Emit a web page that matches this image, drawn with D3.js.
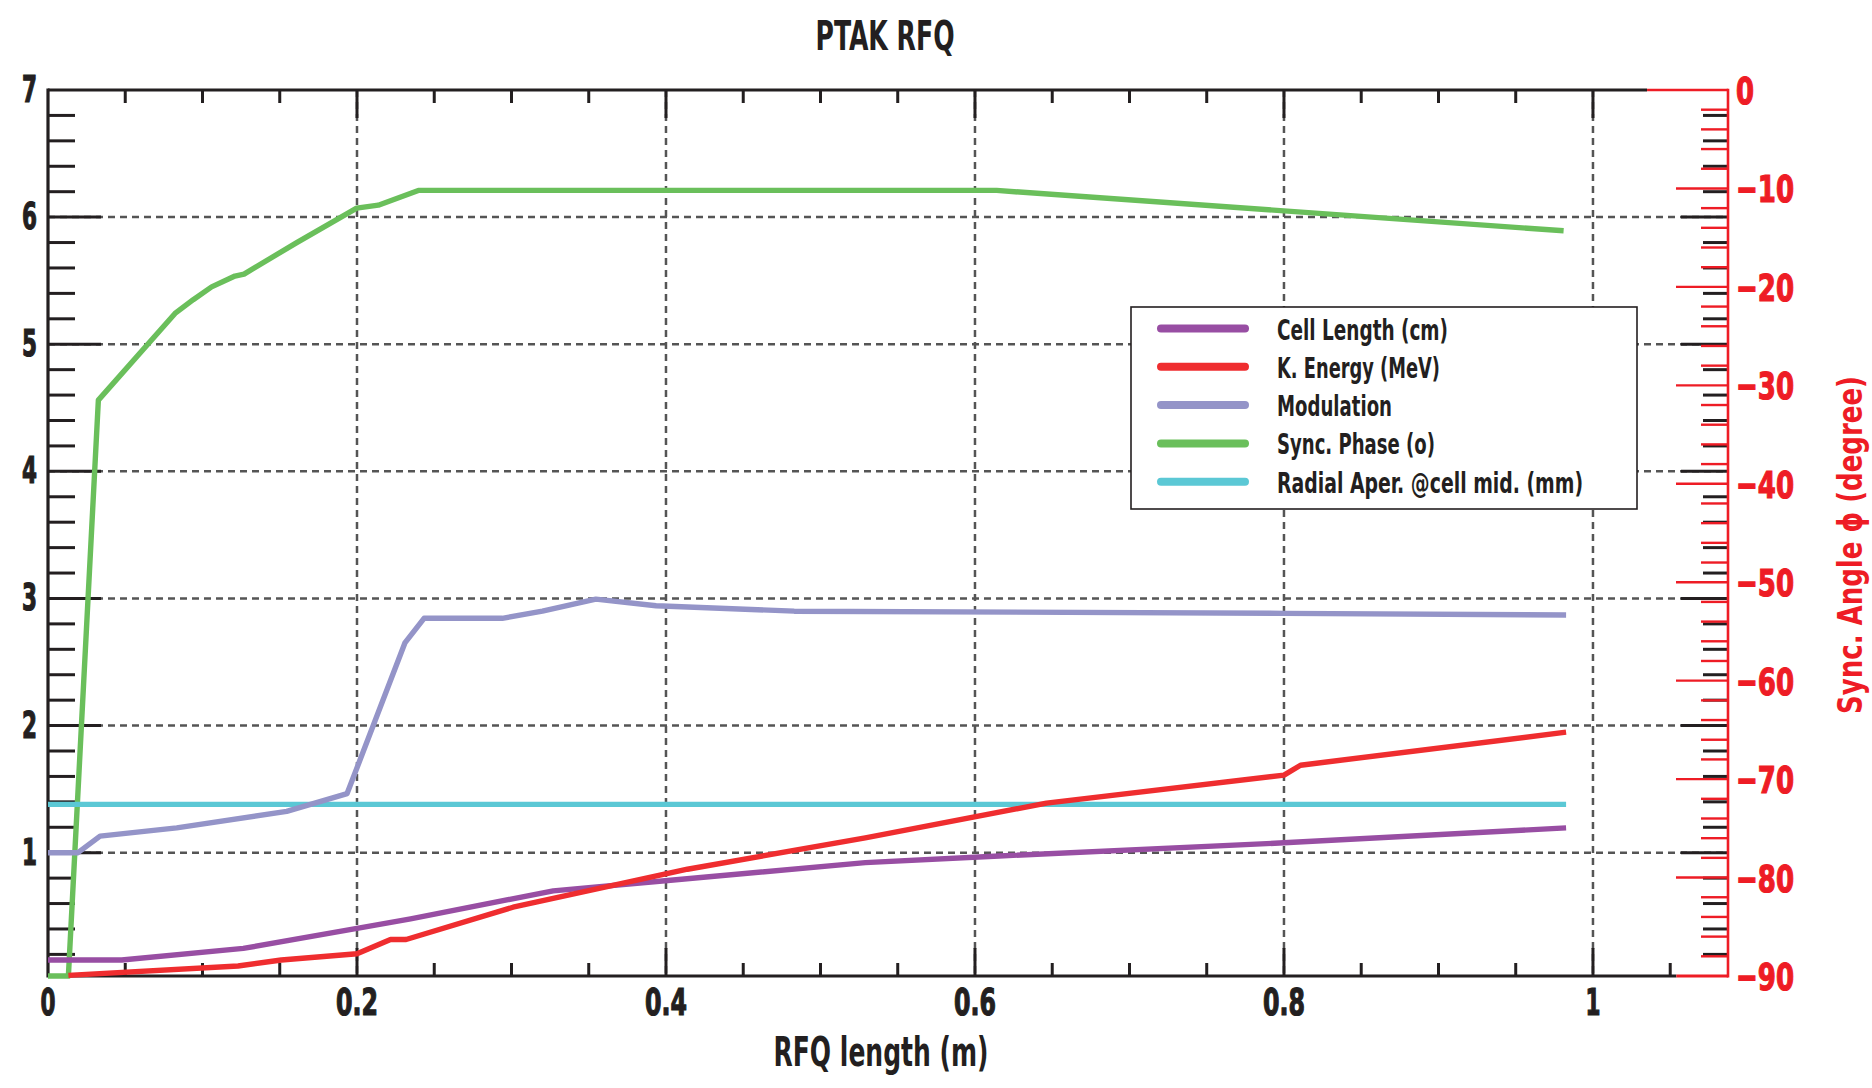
<!DOCTYPE html>
<html><head><meta charset="utf-8">
<script src="https://cdn.jsdelivr.net/npm/d3@7"></script>
<style>
body{margin:0;background:#fff;}
text{font-family:"Liberation Sans Narrow","DejaVu Sans Condensed","Arial Narrow","Roboto Condensed",sans-serif;font-weight:bold;}
</style></head><body>
<svg id="c" width="1872" height="1088"></svg>
<script>
// ---- data ----
const title = "PTAK RFQ";
const xLabel = "RFQ length (m)";
const yRightLabel = "Sync. Angle  \u03D5 (degree)";
const xTicks = [0, 0.2, 0.4, 0.6, 0.8, 1];
const xTickLabels = ["0", "0.2", "0.4", "0.6", "0.8", "1"];
const yTicks = [1, 2, 3, 4, 5, 6, 7];
const yTickLabels = ["1", "2", "3", "4", "5", "6", "7"];
const yRightTicks = [0, -10, -20, -30, -40, -50, -60, -70, -80, -90];
const yRightTickLabels = ["0", "\u221210", "\u221220", "\u221230", "\u221240", "\u221250", "\u221260", "\u221270", "\u221280", "\u221290"];

const cellLengthX = [0, 0.0477, 0.1264, 0.2, 0.2347, 0.327, 0.3994, 0.529, 0.6156, 0.8, 0.9826];
const cellLength  = [0.156, 0.156, 0.247, 0.405, 0.48, 0.70, 0.779, 0.922, 0.974, 1.078, 1.195];

const energyX = [0.0132, 0.123, 0.151, 0.2, 0.2217, 0.2318, 0.301, 0.4139, 0.529, 0.6463, 0.8, 0.8107, 0.9826];
const energy  = [0.035, 0.109, 0.156, 0.205, 0.317, 0.317, 0.571, 0.87, 1.117, 1.39, 1.61, 1.688, 1.948];

const modulationX = [0, 0.0194, 0.0337, 0.0833, 0.1545, 0.1936, 0.231, 0.2434, 0.294, 0.320, 0.3546, 0.3936, 0.483, 0.8, 0.9826];
const modulation  = [1.0, 1.0, 1.13, 1.195, 1.325, 1.465, 2.65, 2.844, 2.844, 2.90, 2.995, 2.943, 2.90, 2.883, 2.87];

const syncPhaseX = [0, 0.0132, 0.0326, 0.0822, 0.094, 0.1059, 0.121, 0.1269, 0.161, 0.1998, 0.2138, 0.2397, 0.614, 0.981];
const syncPhase  = [-90, -90, -31.5, -22.7, -21.3, -20.0, -18.9, -18.7, -15.5, -12.0, -11.7, -10.2, -10.2, -14.3];

const apertureX = [0, 0.9826];
const aperture  = [1.38, 1.38];

const seriesNames = ["Cell Length (cm)", "K. Energy (MeV)", "Modulation", "Sync. Phase (o)", "Radial Aper. @cell mid. (mm)"];
const seriesColors = ["#984ea3", "#ef2d2f", "#9494c8", "#6abf5b", "#5bc8d5"];

// ---- chart ----
const svg = d3.select("#c");
const L = 48, R = 1728, T = 90, B = 976;
const x = d3.scaleLinear().domain([0, 1.0874]).range([L, R]);
const y = d3.scaleLinear().domain([0.03, 7]).range([B, T]);
const yR = d3.scaleLinear().domain([-90, 0]).range([B, T]);
const black = "#231f20", red = "#ee1c25", grid = "#555555";

function labelWidth(s) {
  let w = 0;
  for (const ch of s) w += (ch === ".") ? 8 : (ch === "\u2212" ? 22 : 17);
  return s.length === 1 ? 15 : w;
}

// grid
const g = svg.append("g");
g.selectAll(".gx").data(xTicks.filter(d => d > 0)).enter().append("line")
  .attr("x1", d => x(d)).attr("x2", d => x(d)).attr("y1", T).attr("y2", B)
  .attr("stroke", grid).attr("stroke-width", 2.5).attr("stroke-dasharray", "7,5");
g.selectAll(".gy").data(yTicks.filter(d => d < 7)).enter().append("line")
  .attr("x1", L).attr("x2", R).attr("y1", d => y(d)).attr("y2", d => y(d))
  .attr("stroke", grid).attr("stroke-width", 2.5).attr("stroke-dasharray", "7,5");

// ticks
const tk = svg.append("g").attr("stroke-width", 3);
const yMinor = d3.range(0.2, 6.99, 0.2).map(v => +v.toFixed(1));
yMinor.forEach(v => {
  const major = Math.abs(v - Math.round(v)) < 1e-6;
  tk.append("line").attr("x1", L).attr("x2", L + (major ? 53 : 27)).attr("y1", y(v)).attr("y2", y(v)).attr("stroke", black);
  tk.append("line").attr("x1", R).attr("x2", R - (major ? 47 : 25)).attr("y1", y(v)).attr("y2", y(v)).attr("stroke", black);
});
const xMinor = d3.range(0.05, 1.06, 0.05).map(v => +v.toFixed(2));
xMinor.forEach(v => {
  const major = Math.abs(v * 5 - Math.round(v * 5)) < 1e-6;
  const len = major ? 28 : 13;
  tk.append("line").attr("x1", x(v)).attr("x2", x(v)).attr("y1", B).attr("y2", B - len).attr("stroke", black);
  if (v <= 1.0) tk.append("line").attr("x1", x(v)).attr("x2", x(v)).attr("y1", T).attr("y2", T + len).attr("stroke", black);
});
const rMinor = d3.range(-88, 0, 2);
rMinor.forEach(v => {
  const major = v % 10 === 0;
  tk.append("line").attr("x1", R).attr("x2", R - (major ? 52 : 27)).attr("y1", yR(v)).attr("y2", yR(v))
    .attr("stroke", red).attr("stroke-width", 2.4);
});

// axes frame
const fr = svg.append("g");
fr.append("line").attr("x1", L).attr("x2", L).attr("y1", T - 1.5).attr("y2", B + 1.5).attr("stroke", black).attr("stroke-width", 3.2);
fr.append("line").attr("x1", L).attr("x2", x(1.035)).attr("y1", T).attr("y2", T).attr("stroke", black).attr("stroke-width", 3.2);
fr.append("line").attr("x1", x(1.035)).attr("x2", R).attr("y1", T).attr("y2", T).attr("stroke", red).attr("stroke-width", 2.6);
fr.append("line").attr("x1", L).attr("x2", x(1.054)).attr("y1", B).attr("y2", B).attr("stroke", black).attr("stroke-width", 3.2);
fr.append("line").attr("x1", x(1.054)).attr("x2", R).attr("y1", B).attr("y2", B).attr("stroke", red).attr("stroke-width", 3);
fr.append("line").attr("x1", R).attr("x2", R).attr("y1", T - 1.3).attr("y2", B + 1.5).attr("stroke", red).attr("stroke-width", 2.6);

// series
const lineL = d3.line().x(d => x(d[0])).y(d => y(d[1]));
const lineR = d3.line().x(d => x(d[0])).y(d => yR(d[1]));
const series = [
  {xs: cellLengthX, ys: cellLength, gen: lineL},
  {xs: energyX, ys: energy, gen: lineL},
  {xs: modulationX, ys: modulation, gen: lineL},
  {xs: syncPhaseX, ys: syncPhase, gen: lineR},
  {xs: apertureX, ys: aperture, gen: lineL}
];
const sg = svg.append("g");
[3, 4, 2, 0, 1].forEach(i => {
  const s = series[i];
  sg.append("path").attr("d", s.gen(s.xs.map((v, k) => [v, s.ys[k]])))
    .attr("fill", "none").attr("stroke", seriesColors[i]).attr("stroke-width", 5.4)
    .attr("stroke-linejoin", "round");
});

// tick labels
const tl = svg.append("g");
yTicks.forEach((v, i) => {
  tl.append("text").attr("x", 37).attr("y", y(v) + 12).attr("text-anchor", "end")
    .attr("font-size", 38).attr("fill", black).attr("stroke", black).attr("stroke-width", 1.2)
    .attr("textLength", labelWidth(yTickLabels[i])).attr("lengthAdjust", "spacingAndGlyphs").text(yTickLabels[i]);
});
xTicks.forEach((v, i) => {
  tl.append("text").attr("x", x(v)).attr("y", 1015).attr("text-anchor", "middle")
    .attr("font-size", 38).attr("fill", black).attr("stroke", black).attr("stroke-width", 1.2)
    .attr("textLength", labelWidth(xTickLabels[i])).attr("lengthAdjust", "spacingAndGlyphs").text(xTickLabels[i]);
});
yRightTicks.forEach((v, i) => {
  tl.append("text").attr("x", 1736).attr("y", yR(v) + 14).attr("text-anchor", "start")
    .attr("font-size", 38).attr("fill", red).attr("stroke", red).attr("stroke-width", 1.2)
    .attr("textLength", i === 0 ? 18 : 58).attr("lengthAdjust", "spacingAndGlyphs").text(yRightTickLabels[i]);
});

// titles
svg.append("text").attr("x", 885).attr("y", 50).attr("text-anchor", "middle")
  .attr("font-size", 40).attr("fill", black).attr("textLength", 139).attr("lengthAdjust", "spacingAndGlyphs").text(title);
svg.append("text").attr("x", 881).attr("y", 1066).attr("text-anchor", "middle")
  .attr("font-size", 40).attr("fill", black).attr("textLength", 215).attr("lengthAdjust", "spacingAndGlyphs").text(xLabel);
svg.append("text").attr("transform", "translate(1862,545) rotate(-90)").attr("text-anchor", "middle")
  .attr("font-size", 34).attr("fill", red).attr("textLength", 338).attr("lengthAdjust", "spacingAndGlyphs").text(yRightLabel);

// legend
const lg = svg.append("g");
lg.append("rect").attr("x", 1131).attr("y", 307).attr("width", 506).attr("height", 202)
  .attr("fill", "#fff").attr("stroke", black).attr("stroke-width", 1.6);
const legendWidths = [171, 163, 115, 158, 306];
seriesNames.forEach((n, i) => {
  const cy = 328.5 + i * 38.3;
  lg.append("line").attr("x1", 1161).attr("x2", 1245).attr("y1", cy).attr("y2", cy)
    .attr("stroke", seriesColors[i]).attr("stroke-width", 8).attr("stroke-linecap", "round");
  lg.append("text").attr("x", 1277).attr("y", cy + 11).attr("font-size", 29).attr("fill", black)
    .attr("textLength", legendWidths[i]).attr("lengthAdjust", "spacingAndGlyphs").text(n);
});
</script>
</body></html>
